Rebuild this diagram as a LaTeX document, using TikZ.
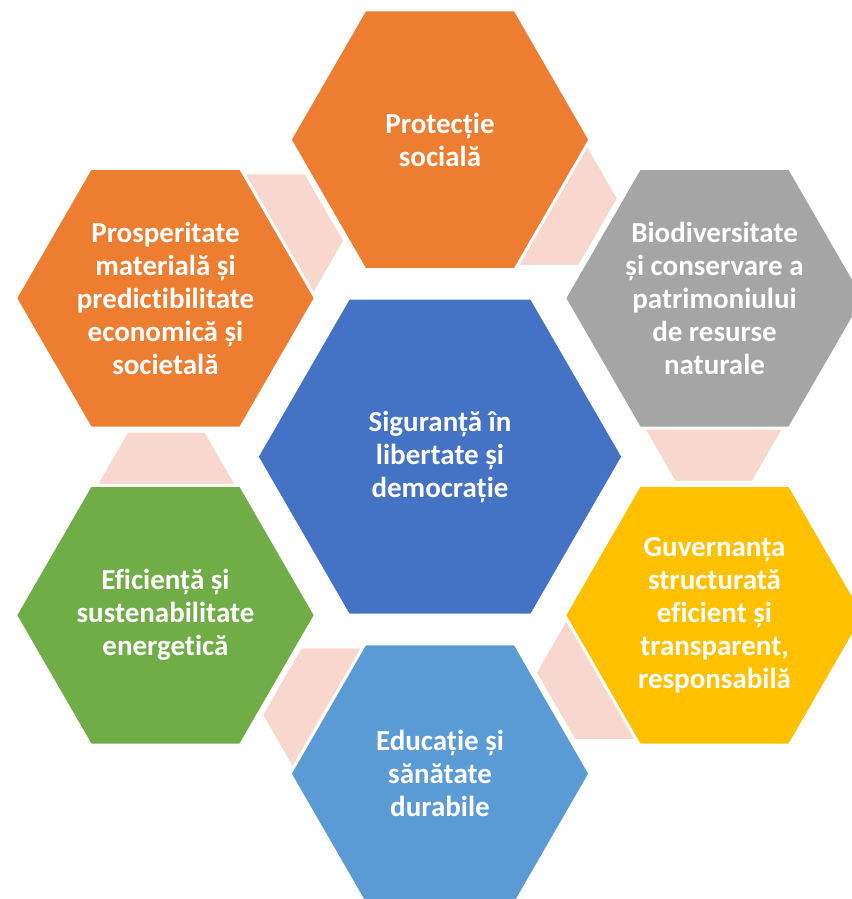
\documentclass[tikz,border=0pt]{standalone}
\usepackage{fontspec}
\setmainfont{Carlito}[Ligatures=NoCommon]
\usetikzlibrary{shapes.geometric}
\definecolor{hexorange}{RGB}{237,125,49}
\definecolor{hexgray}{RGB}{165,165,165}
\definecolor{hexyellow}{RGB}{255,192,0}
\definecolor{hexblue}{RGB}{68,114,196}
\definecolor{hexsky}{RGB}{91,155,213}
\definecolor{hexgreen}{RGB}{112,173,71}
\definecolor{linkpink}{RGB}{248,216,206}
\tikzset{%
    hexa/.style = {regular polygon, regular polygon sides=6,
        draw=white, line width=3pt, minimum size=300pt, inner sep=0pt,
        text=white, align=center, font=\fontsize{29}{33}\selectfont\bfseries},
    core/.style = {hexa, minimum size=366pt},
    link/.style = {regular polygon, regular polygon sides=6,
        draw=white, line width=3pt, fill=linkpink, minimum size=157pt},
}

\begin{document}
\begin{tikzpicture}[x=1pt, y=1pt]
    \useasboundingbox (-440,-442.3) rectangle (411,456.7);
    % small hexagons behind the ring
    \foreach \a [count=\i] in {8.8, 68.8, 128.8, 188.8, 248.8, 308.8}
        \node [link] (link\i) at (\a:277) {};
    \node [core, fill=hexblue] (core) at (0,0) {Siguranță în\\libertate și\\democrație};
    \node [hexa, fill=hexorange] (social) at (90:317) {Protecție\\socială};
    \node [hexa, fill=hexgray] (biodiv) at (30:317) {Biodiversitate\\și conservare a\\patrimoniului\\de resurse\\naturale};
    \node [hexa, fill=hexyellow] (govern) at (-30:317) {Guvernanța\\structurată\\eficient și\\transparent,\\responsabilă};
    \node [hexa, fill=hexsky] (educ) at (-90:317) {Educație și\\sănătate\\durabile};
    \node [hexa, fill=hexgreen] (energy) at (-150:317) {Eficiență și\\sustenabilitate\\energetică};
    \node [hexa, fill=hexorange] (prosper) at (150:317) {Prosperitate\\materială și\\predictibilitate\\economică și\\societală};
\end{tikzpicture}
\end{document}
